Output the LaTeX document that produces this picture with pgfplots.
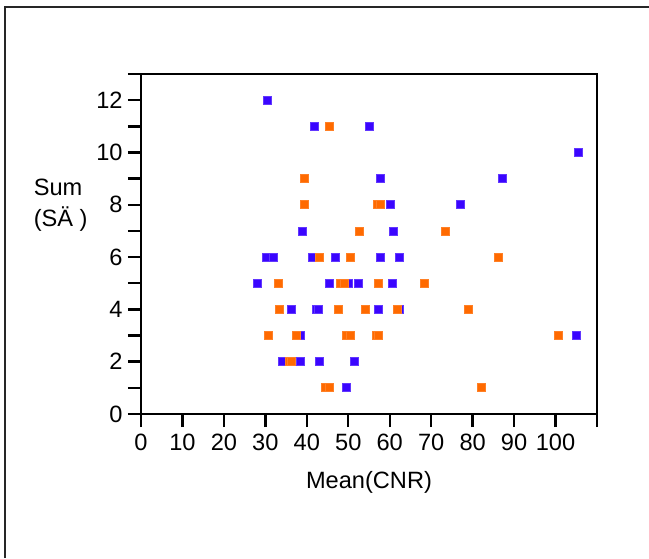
\documentclass[border=0pt]{standalone}
\usepackage{pgfplots}
\pgfplotsset{compat=1.18}
\usepackage{fontspec}
\setmainfont{Liberation Sans}
\definecolor{ptblue}{HTML}{3A05FF}
\definecolor{ptorange}{HTML}{FF6A00}
\begin{document}
\begin{tikzpicture}
\useasboundingbox (0,0) rectangle (324.5pt,279pt);
\draw[line width=0.8pt, black!85] (2.5pt,0) -- (2.5pt,275.5pt) -- (324.5pt,275.5pt);
\begin{axis}[
  at={(70.5pt,72pt)}, anchor=south west,
  scale only axis, width=228pt, height=170pt,
  xmin=0, xmax=110, ymin=0, ymax=13,
  xtick={0,10,20,30,40,50,60,70,80,90,100,110},
  xticklabels={0,10,20,30,40,50,60,70,80,90,100,{}},
  ytick={0,2,4,6,8,10,12},
  minor ytick={1,3,5,7,9,11,13},
  xtick pos=bottom, ytick pos=left,
  tick align=outside,
  major tick length=6.5pt, minor tick length=6.5pt,
  axis line style={line width=1.2pt},
  tick style={line width=1.2pt, black},
  /pgf/number format/assume math mode=true,
  tick label style={font=\fontsize{11.8}{13}\selectfont},
  yticklabel style={xshift=0.8pt},
  label style={font=\fontsize{11.8}{15.5}\selectfont},
  xlabel={Mean(CNR)},
  xlabel style={at={(axis description cs:0.5,-0.218)}, anchor=base},
  ylabel={Sum\\(SÄ )},
  ylabel style={rotate=-90, align=left, at={(axis description cs:-0.176,0.615)}, anchor=center},
  clip=false,
]
\addplot[only marks, mark=square*, mark size=2pt, draw=ptblue!80, fill=ptblue] coordinates {
(30.6,12) (41.8,11) (55.0,11) (105.4,10) (57.8,9) (87.1,9)
(60.2,8) (77.0,8) (39.0,7) (61.0,7)
(30.3,6) (32.0,6) (41.3,6) (46.8,6) (57.8,6) (62.4,6)
(28.0,5) (45.4,5) (50.0,5) (52.4,5) (60.6,5)
(36.2,4) (42.2,4) (42.7,4) (57.3,4) (62.4,4)
(38.5,3) (105.0,3)
(34.0,2) (38.5,2) (43.1,2) (51.4,2)
(49.5,1)
};
\addplot[only marks, mark=square*, mark size=2pt, draw=ptorange!85, fill=ptorange] coordinates {
(45.5,11) (39.4,9)
(39.4,8) (57.0,8) (57.8,8)
(52.8,7) (73.4,7)
(43.1,6) (50.4,6) (86.2,6)
(33.1,5) (48.2,5) (49.0,5) (57.3,5) (68.3,5)
(33.5,4) (47.6,4) (54.1,4) (61.9,4) (78.9,4)
(30.8,3) (37.5,3) (49.5,3) (50.4,3) (56.8,3) (57.3,3) (100.8,3)
(35.7,2) (36.3,2)
(44.6,1) (45.4,1) (82.1,1)
};
\end{axis}
\end{tikzpicture}
\end{document}
